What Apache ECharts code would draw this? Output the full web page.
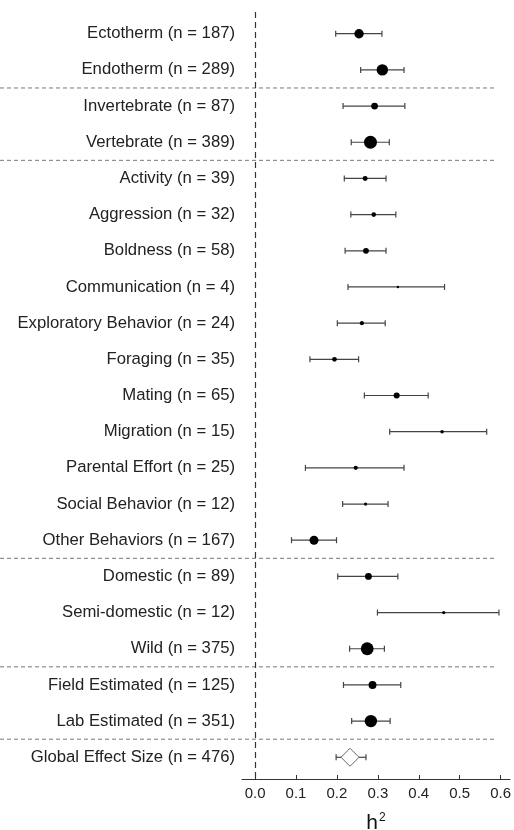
<!DOCTYPE html>
<html>
<head>
<meta charset="utf-8">
<script src="https://cdn.jsdelivr.net/npm/echarts@6/dist/echarts.min.js"></script>
<style>
html,body{margin:0;padding:0;background:#fff;}
#chart{width:514px;height:830px;}
</style>
</head>
<body>
<div id="chart"></div>
<script>
const categories = [
  'Ectotherm (n = 187)', 'Endotherm (n = 289)',
  'Invertebrate (n = 87)', 'Vertebrate (n = 389)',
  'Activity (n = 39)', 'Aggression (n = 32)', 'Boldness (n = 58)',
  'Communication (n = 4)', 'Exploratory Behavior (n = 24)', 'Foraging (n = 35)',
  'Mating (n = 65)', 'Migration (n = 15)', 'Parental Effort (n = 25)',
  'Social Behavior (n = 12)', 'Other Behaviors (n = 167)',
  'Domestic (n = 89)', 'Semi-domestic (n = 12)', 'Wild (n = 375)',
  'Field Estimated (n = 125)', 'Lab Estimated (n = 351)',
  'Global Effect Size (n = 476)'
];
const nCounts = [187, 289, 87, 389, 39, 32, 58, 4, 24, 35, 65, 15, 25, 12, 167, 89, 12, 375, 125, 351, 476];
const estimates = [0.254, 0.311, 0.292, 0.282, 0.269, 0.290, 0.271, 0.349, 0.261, 0.194, 0.346, 0.457, 0.246, 0.270, 0.144, 0.277, 0.461, 0.274, 0.287, 0.283, 0.232];
const lowerCI = [0.197, 0.258, 0.215, 0.235, 0.218, 0.234, 0.220, 0.227, 0.201, 0.134, 0.267, 0.329, 0.123, 0.214, 0.089, 0.202, 0.299, 0.231, 0.216, 0.236, 0.198];
const upperCI = [0.310, 0.364, 0.366, 0.328, 0.320, 0.344, 0.320, 0.463, 0.318, 0.253, 0.423, 0.566, 0.364, 0.325, 0.199, 0.349, 0.596, 0.316, 0.356, 0.330, 0.271];
const separatorsAfter = [1, 3, 14, 17, 19];
const xTicks = [0, 0.1, 0.2, 0.3, 0.4, 0.5, 0.6];

const last = categories.length - 1;
const FONT = '"Liberation Sans", Arial, sans-serif';

const pointData = [];
const barData = [];
for (let i = 0; i < categories.length; i++) {
  barData.push([lowerCI[i], upperCI[i], i]);
  if (i !== last) pointData.push([estimates[i], i, nCounts[i]]);
}
const globalData = [[estimates[last], last]];
const sepData = separatorsAfter.map(s => [0, s + 0.5]);

const chart = echarts.init(document.getElementById('chart'), null, {renderer: 'canvas'});
chart.setOption({
  animation: false,
  backgroundColor: '#fff',
  grid: {left: 242, right: 4, top: 12, bottom: 51, containLabel: false, outerBoundsMode: 'none'},
  xAxis: {
    type: 'value', min: -0.032, max: 0.623,
    axisLine: {show: true, onZero: false, lineStyle: {color: '#333', width: 1}},
    axisTick: {show: true, inside: true, length: 4, customValues: xTicks, lineStyle: {color: '#333'}},
    axisLabel: {customValues: xTicks, formatter: v => v.toFixed(1), fontSize: 15, color: '#222', margin: 7, fontFamily: FONT},
    splitLine: {show: false},
    name: '{h|h}{s|2}',
    nameLocation: 'middle', nameGap: 33,
    nameTextStyle: {
      rich: {
        h: {fontSize: 21, color: '#111', fontFamily: FONT},
        s: {fontSize: 12, color: '#111', fontFamily: FONT, verticalAlign: 'top', padding: [0, 0, 10, 1]}
      }
    }
  },
  yAxis: {
    type: 'value', inverse: true, min: -0.6, max: 20.6,
    axisLine: {show: false, onZero: false}, axisTick: {show: false}, splitLine: {show: false},
    axisLabel: {
      customValues: categories.map((c, i) => i),
      formatter: v => categories[Math.round(v)],
      fontSize: 16.7, color: '#222', margin: 7, fontFamily: FONT
    }
  },
  series: [
    {
      type: 'custom', name: 'separators', clip: false, silent: true,
      data: sepData,
      renderItem: (params, api) => {
        const y = api.coord([0, api.value(1)])[1];
        const x2 = api.coord([0.59, api.value(1)])[0];
        return {type: 'line', shape: {x1: 0, y1: y, x2: x2, y2: y},
          style: {stroke: '#777', lineWidth: 1, lineDash: [4, 3]}};
      },
      z: 1
    },
    {
      type: 'custom', name: 'ci', silent: true,
      data: barData,
      renderItem: (params, api) => {
        const lo = api.coord([api.value(0), api.value(2)]);
        const hi = api.coord([api.value(1), api.value(2)]);
        const h = 3;
        const st = {stroke: '#444', lineWidth: 1.2};
        return {type: 'group', children: [
          {type: 'line', shape: {x1: lo[0], y1: lo[1], x2: hi[0], y2: hi[1]}, style: st},
          {type: 'line', shape: {x1: lo[0], y1: lo[1] - h, x2: lo[0], y2: lo[1] + h}, style: st},
          {type: 'line', shape: {x1: hi[0], y1: hi[1] - h, x2: hi[0], y2: hi[1] + h}, style: st}
        ]};
      },
      markLine: {
        silent: true, symbol: 'none', label: {show: false},
        lineStyle: {color: '#333', width: 1.2, type: [6, 4]},
        data: [{xAxis: 0}]
      },
      z: 2
    },
    {
      type: 'scatter', name: 'estimate', silent: true,
      data: pointData,
      symbol: 'circle',
      symbolSize: d => 1.2 + 0.6 * Math.sqrt(d[2]),
      itemStyle: {color: '#000', opacity: 1},
      z: 3
    },
    {
      type: 'scatter', name: 'global', silent: true,
      data: globalData,
      symbol: 'diamond', symbolSize: [18, 18],
      itemStyle: {color: '#fff', borderColor: '#666', borderWidth: 1, opacity: 1},
      z: 4
    }
  ]
});
</script>
</body>
</html>
